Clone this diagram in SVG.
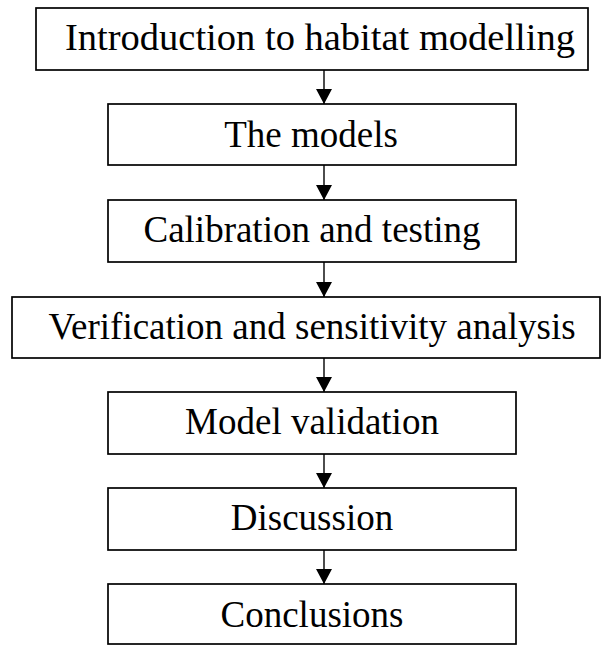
<svg xmlns="http://www.w3.org/2000/svg" width="601" height="646" viewBox="0 0 601 646">
<style>
.box{fill:#fff;stroke:#000;stroke-width:1.7}
.lbl{font-family:"Liberation Serif","Times New Roman",serif;font-size:37px;fill:#000;text-anchor:middle}
.con{stroke:#000;stroke-width:1.4;fill:none}
</style>
<defs>
<marker id="ah" markerUnits="userSpaceOnUse" markerWidth="16" markerHeight="16" refX="15" refY="8" orient="auto" viewBox="0 0 16 16">
<path d="M0,0 L15,8 L0,16 Z" fill="#000"/>
</marker>
</defs>
<rect width="601" height="646" fill="#fff"/>
<g id="connectors">
<line class="con" x1="324" y1="70" x2="324" y2="104" marker-end="url(#ah)"/>
<line class="con" x1="324" y1="165" x2="324" y2="200" marker-end="url(#ah)"/>
<line class="con" x1="324" y1="262" x2="324" y2="297" marker-end="url(#ah)"/>
<line class="con" x1="324" y1="358" x2="324" y2="392" marker-end="url(#ah)"/>
<line class="con" x1="324" y1="454" x2="324" y2="488" marker-end="url(#ah)"/>
<line class="con" x1="324" y1="550" x2="324" y2="584" marker-end="url(#ah)"/>
</g>
<g id="n1"><rect class="box" x="36" y="8" width="552" height="62"/><text class="lbl" x="320" y="50" style="font-size:38.5px">Introduction to habitat modelling</text></g>
<g id="n2"><rect class="box" x="108" y="104" width="408" height="61"/><text class="lbl" x="311" y="147">The models</text></g>
<g id="n3"><rect class="box" x="108" y="200" width="408" height="62"/><text class="lbl" x="312" y="242">Calibration and testing</text></g>
<g id="n4"><rect class="box" x="12" y="297" width="588" height="61"/><text class="lbl" x="312" y="339">Verification and sensitivity analysis</text></g>
<g id="n5"><rect class="box" x="108" y="392" width="408" height="62"/><text class="lbl" x="312" y="434">Model validation</text></g>
<g id="n6"><rect class="box" x="108" y="488" width="408" height="62"/><text class="lbl" x="312" y="530">Discussion</text></g>
<g id="n7"><rect class="box" x="108" y="584" width="408" height="60"/><text class="lbl" x="312" y="627">Conclusions</text></g>
</svg>
